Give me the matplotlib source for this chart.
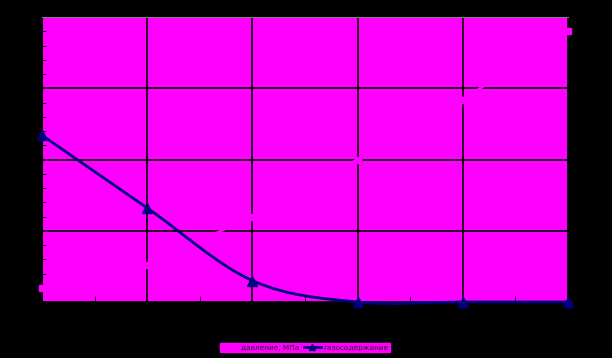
import numpy as np
import matplotlib.pyplot as plt
from matplotlib.path import Path
from matplotlib.patches import PathPatch
from matplotlib.lines import Line2D

# data
x_vals = [0, 1, 2, 3, 4, 5]
pressure = [1.0, 2.6, 6.0, 10.0, 14.2, 19.0]     # давление, МПа (drawn magenta on magenta)
gas = [11.7, 6.6, 1.5, 0.0, 0.0, 0.0]            # газосодержание
y_ticks = [0, 5, 10, 15, 20]

bg = '#FF00FF'
navy = '#000080'


def smooth_path(xs, ys):
    # excel-like smoothed line: bezier segments through the points
    pts = np.column_stack([xs, ys]).astype(float)
    n = len(pts)
    verts = [pts[0]]
    codes = [Path.MOVETO]
    for i in range(n - 1):
        p0 = pts[i - 1] if i > 0 else pts[i]
        p1 = pts[i]
        p2 = pts[i + 1]
        p3 = pts[i + 2] if i + 2 < n else pts[i + 1]
        c1 = p1 + (p2 - p0) / 6
        c2 = p2 - (p3 - p1) / 6
        verts += [c1, c2, p2]
        codes += [Path.CURVE4] * 3
    return Path(verts, codes)


fig = plt.figure(figsize=(6.12, 3.58), dpi=100, facecolor='black')
ax = fig.add_axes([42/612, 56/358, 526/612, 285/358])
ax.set_facecolor(bg)

ax.set_xlim(0, 5)
ax.set_ylim(0, 20)
ax.set_yticks(y_ticks)
ax.set_xticks(x_vals)
ax.set_xticks([0.5, 1.5, 2.5, 3.5, 4.5], minor=True)
ax.set_yticks(np.arange(0, 20.1, 1), minor=True)
ax.grid(True, which='major', color='black', lw=1.2)
ax.tick_params(which='both', colors='black', labelcolor='black', labelsize=7)
ax.tick_params(axis='x', which='minor', direction='in', length=4)
ax.tick_params(axis='y', which='minor', direction='in', length=3)
ax.tick_params(axis='y', which='major', direction='out', length=4)
for s in ['left', 'bottom', 'right']:
    ax.spines[s].set_color('black')
ax.spines['top'].set_color('#808080')

# hidden pressure series
ax.plot(x_vals, pressure, color=bg, lw=2, marker='s', ms=5, mfc=bg, mec=bg,
        zorder=3, clip_on=False)

# gas content, smoothed
ax.add_patch(PathPatch(smooth_path(x_vals, gas), fill=False, ec=navy, lw=2,
                       zorder=4, clip_on=False))
ax.plot(x_vals, gas, ls='none', marker='^', ms=7, color=navy, zorder=5, clip_on=False)

handles = [Line2D([], [], color=bg, lw=2, marker='s', ms=4, mfc=bg, mec=bg),
           Line2D([], [], color=navy, lw=2, marker='^', ms=5)]
leg = fig.legend(handles, ['давление, МПа', 'газосодержание'], loc='center',
                 bbox_to_anchor=(305/612, 1 - 347.5/358), ncol=2, fontsize=5.3,
                 frameon=True, facecolor=bg, edgecolor=bg, framealpha=1,
                 borderpad=0.15, handlelength=2.3, columnspacing=0.6, handletextpad=0.4,
                 fancybox=False, borderaxespad=0)
for t in leg.get_texts():
    t.set_color('#202020')

fig.savefig('out.png', dpi=100, facecolor='black')
